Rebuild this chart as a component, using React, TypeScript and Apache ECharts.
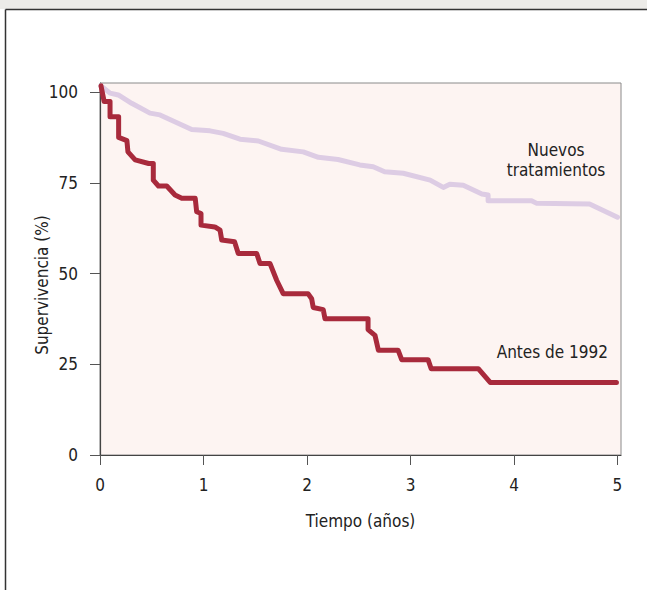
import React, { useEffect, useRef } from "react";
import * as echarts from "echarts";

// Survival curves (x = years, y = % survival)
const antesX = [0.01, 0.04, 0.097, 0.097, 0.18, 0.18, 0.26, 0.27, 0.34, 0.47, 0.515, 0.515, 0.565, 0.645, 0.725, 0.79, 0.92, 0.934, 0.976, 0.976, 1.11, 1.16, 1.176, 1.30, 1.336, 1.514, 1.546, 1.643, 1.707, 1.77, 2.01, 2.045, 2.06, 2.157, 2.174, 2.59, 2.59, 2.657, 2.69, 2.88, 2.915, 3.17, 3.20, 3.655, 3.77, 4.99];
const antesY = [101.8, 97.5, 97.5, 93.3, 93.3, 87.6, 86.7, 83.6, 81.4, 80.4, 80.4, 75.8, 74.2, 74.2, 71.7, 70.8, 70.8, 67.1, 66.6, 63.4, 62.9, 62.0, 59.3, 58.8, 55.6, 55.6, 52.8, 52.8, 48.2, 44.5, 44.5, 43.1, 40.7, 40.1, 37.6, 37.6, 34.6, 33.0, 28.9, 28.9, 26.3, 26.3, 23.8, 23.8, 20.0, 20.0];

const nuevosX = [0.01, 0.097, 0.177, 0.306, 0.483, 0.58, 0.886, 1.063, 1.19, 1.353, 1.53, 1.755, 1.964, 2.11, 2.30, 2.51, 2.64, 2.75, 2.93, 3.19, 3.317, 3.38, 3.51, 3.69, 3.75, 3.75, 4.17, 4.22, 4.73, 5.0];
const nuevosY = [101.8, 99.8, 99.3, 97.0, 94.3, 93.8, 89.8, 89.4, 88.7, 87.1, 86.6, 84.3, 83.6, 82.1, 81.5, 80.0, 79.5, 78.1, 77.7, 75.8, 73.8, 74.7, 74.4, 72.0, 71.7, 70.1, 70.1, 69.4, 69.2, 65.6];

const xTicks = [0, 1, 2, 3, 4, 5];
const yTicks = [0, 25, 50, 75, 100];

const FONT = "'Liberation Sans Narrow', 'DejaVu Sans Condensed', 'Roboto', sans-serif";
const FS = 17;

export default function App() {
  const ref = useRef<HTMLDivElement>(null);
  useEffect(() => {
    if (!ref.current) return;
    const chart = echarts.init(ref.current, undefined, { renderer: "svg" });
    const zip = (xs: number[], ys: number[]) => xs.map((x, i) => [x, ys[i]]);
    chart.setOption({
      animation: false,
      backgroundColor: "#ffffff",
      textStyle: { fontFamily: FONT },
      grid: {
        left: 100,
        top: 83,
        width: 521,
        height: 372,
        show: true,
        backgroundColor: "#fdf4f2",
        borderColor: "#8a8a8a",
        borderWidth: 1,
      },
      xAxis: {
        type: "value",
        min: 0,
        max: 5.034,
        splitLine: { show: false },
        axisLine: { show: true, lineStyle: { color: "#444", width: 1.2 } },
        axisTick: { show: true, length: 10, lineStyle: { color: "#555" }, customValues: xTicks },
        axisLabel: { customValues: xTicks, color: "#222", fontSize: FS, margin: 21, fontFamily: FONT },
        name: "Tiempo (años)",
        nameLocation: "middle",
        nameGap: 57,
        nameTextStyle: { color: "#222", fontSize: FS, fontFamily: FONT },
      },
      yAxis: {
        type: "value",
        min: 0,
        max: 102.6,
        splitLine: { show: false },
        axisLine: { show: true, lineStyle: { color: "#444", width: 1.2 } },
        axisTick: { show: true, length: 10, lineStyle: { color: "#555" }, customValues: yTicks },
        axisLabel: { customValues: yTicks, color: "#222", fontSize: FS, margin: 22, fontFamily: FONT },
      },
      series: [
        {
          name: "Nuevos tratamientos",
          type: "line",
          data: zip(nuevosX, nuevosY),
          showSymbol: false,
          lineStyle: { color: "#ddcce4", width: 5, cap: "round", join: "round" },
          z: 2,
        },
        {
          name: "Antes de 1992",
          type: "line",
          data: zip(antesX, antesY),
          showSymbol: false,
          lineStyle: { color: "#a82a3c", width: 5, cap: "round", join: "round" },
          z: 3,
        },
      ],
      graphic: [
        { type: "rect", shape: { x: 0, y: 0, width: 647, height: 9 }, style: { fill: "#ecebe8" }, silent: true },
        { type: "line", shape: { x1: 5.5, y1: 9.5, x2: 647, y2: 9.5 }, style: { stroke: "#333", lineWidth: 1.5 }, silent: true },
        { type: "line", shape: { x1: 5.5, y1: 9.5, x2: 5.5, y2: 590 }, style: { stroke: "#333", lineWidth: 1.5 }, silent: true },
        { type: "text", x: 42, y: 285, rotation: Math.PI / 2, style: { text: "Supervivencia (%)", font: `${FS}px ${FONT}`, fill: "#222", align: "center", verticalAlign: "middle" } },
        { type: "text", x: 556, y: 150, style: { text: "Nuevos", font: `${FS}px ${FONT}`, fill: "#222", align: "center", verticalAlign: "middle" } },
        { type: "text", x: 556, y: 170, style: { text: "tratamientos", font: `${FS}px ${FONT}`, fill: "#222", align: "center", verticalAlign: "middle" } },
        { type: "text", x: 608, y: 352, style: { text: "Antes de 1992", font: `${FS}px ${FONT}`, fill: "#222", align: "right", verticalAlign: "middle" } },
      ],
    });
    return () => chart.dispose();
  }, []);
  return <div ref={ref} style={{ position: "fixed", left: 0, top: 0, width: 647, height: 590 }} />;
}
